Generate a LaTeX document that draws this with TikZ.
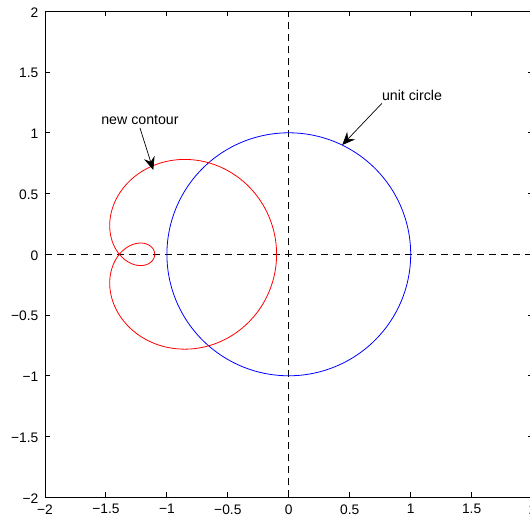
\documentclass[tikz,border=0pt]{standalone}
\usepackage{fontspec}
\setmainfont{Liberation Sans}
\usetikzlibrary{arrows.meta}
\begin{document}
\begin{tikzpicture}[x=121.9pt,y=121.5pt,
  ticklab/.style={inner sep=0pt, font=\fontsize{13.8}{14}\selectfont},
  annot/.style={inner sep=0pt, font=\fontsize{14.2}{15}\selectfont},
  pointer/.style={-{Stealth[length=13pt,width=11pt,inset=4.5pt]}, line width=0.7pt},
  axisdash/.style={dash pattern=on 7pt off 5pt, line width=0.7pt},
  curve/.style={line width=0.8pt},
  frame/.style={line width=0.9pt}]
\useasboundingbox (-288.8pt,-263.7pt) rectangle (241.2pt,254.3pt);
% dashed axes
\draw[axisdash] (-2,0) -- (2,0);
\draw[axisdash] (0,-2) -- (0,2);
% unit circle
\draw[curve, blue] plot[domain=0:360, samples=181] ({cos(\x)},{sin(\x)}) -- cycle;
% new contour (limacon)
\draw[curve, red] plot[domain=0:360, samples=400, smooth]
  ({-1.39+(0.5+0.79*cos(\x))*cos(\x)}, {(0.5+0.79*cos(\x))*sin(\x)}) -- cycle;
% frame and ticks
\draw[frame] (-2,-2) rectangle (2,2);
\foreach \t in {-2,-1.5,...,2} {
  \draw[frame] (\t,-2) -- ++(0,5pt);
  \draw[frame] (\t,2) -- ++(0,-5pt);
  \draw[frame] (-2,\t) -- ++(5pt,0);
  \draw[frame] (2,\t) -- ++(-5pt,0);
}
% tick labels
\foreach \t/\l [count=\i] in {-2/−2,-1.5/−1.5,-1/−1,-0.5/−0.5,0/0,0.5/0.5,1/1,1.5/1.5,2/2} {
  \node[ticklab, anchor=north] (xl\i) at ([yshift=-7pt]\t,-2) {\l};
  \node[ticklab, anchor=east] (yl\i) at ([xshift=-6.5pt,yshift=-1pt]-2,\t) {\l};
}
% annotations
\node[annot] (nc) at (-1.221,1.105) {new contour};
\coordinate (nctip) at (-1.112,0.694);
\draw[pointer] ([yshift=-3pt]nc.south) -- (nctip);
\node[annot] (uc) at (1.011,1.308) {unit circle};
\coordinate (uctip) at (0.438,0.899);
\draw[pointer] ([yshift=-2.6pt]uc.south west) -- (uctip);
\end{tikzpicture}
\end{document}
